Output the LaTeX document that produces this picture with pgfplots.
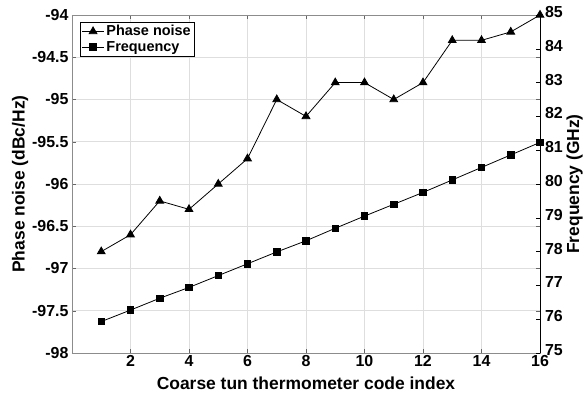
\documentclass[border=0pt]{standalone}
\usepackage{pgfplots}
\pgfplotsset{compat=1.18}
\usepackage{fontspec}
\setmainfont{Liberation Sans}
\begin{document}
\begin{tikzpicture}
\path[use as bounding box] (-72bp,-49bp) rectangle (514bp,353bp);
\pgfplotsset{
  every axis/.append style={
    scale only axis, width=468bp, height=338bp,
    at={(0,0)}, anchor=south west,
    xmin=0, xmax=16,
    /pgf/number format/assume math mode=true,
    tick label style={font=\fontsize{16}{18}\selectfont\bfseries},
    label style={font=\fontsize{17.5}{19}\selectfont\bfseries},
    major tick length=4bp,
  }
}
\begin{axis}[
  ymin=-98, ymax=-94,
  ytick={-98,-97.5,...,-94},
  xtick={2,4,...,16},
  yticklabel style={/pgf/number format/fixed},
  grid=major,
  major grid style={draw=black!13, line width=0.8pt},
  axis line style={draw=black!45},
  tick style={draw=black!60},
  xtick pos=both,
  xticklabel pos=bottom,
  ytick pos=both,
  yticklabel pos=left,
  xlabel={Coarse tun thermometer code index},
  ylabel={Phase noise (dBc/Hz)},
  xticklabel style={yshift=1bp},
  xlabel style={yshift=-3bp},
  ylabel style={yshift=-3bp},
]
\addplot[black, line width=0.8pt, mark=triangle*, mark size=4.5bp, mark options={solid}] coordinates {
(1,-96.8) (2,-96.6) (3,-96.2) (4,-96.3) (5,-96.0) (6,-95.7) (7,-95.0) (8,-95.2)
(9,-94.8) (10,-94.8) (11,-95.0) (12,-94.8) (13,-94.3) (14,-94.3) (15,-94.2) (16,-94.0)
};
\end{axis}
\begin{axis}[
  ymin=75, ymax=85,
  ytick={75,76,...,85},
  axis x line=none,
  axis y line*=right,
  axis line style={draw=black, line width=0.8pt},
  y axis line style={-},
  tick style={draw=black},
  ylabel={Frequency (GHz)},
  ylabel style={yshift=3bp},
  yticklabel style={xshift=1.5bp, yshift=3bp},
  legend style={at={(0.017,0.98)}, anchor=north west, draw=black, font=\fontsize{14.5}{16}\selectfont\bfseries, inner sep=1.5bp, row sep=0bp, cells={anchor=west}},
  legend cell align=left,
  legend image code/.code={\draw[mark repeat=2,mark phase=2,#1] plot coordinates {(0bp,0bp) (11bp,0bp) (22bp,0bp)};},
]
\addlegendimage{black, line width=0.8pt, mark=triangle*, mark size=4.5bp}
\addlegendentry{Phase noise}
\addplot[black, line width=0.8pt, mark=square*, mark size=3.3bp] coordinates {
(1,75.93) (2,76.27) (3,76.62) (4,76.94) (5,77.29) (6,77.64) (7,77.99) (8,78.32)
(9,78.69) (10,79.05) (11,79.40) (12,79.75) (13,80.12) (14,80.49) (15,80.86) (16,81.23)
};
\addlegendentry{Frequency}
\end{axis}
\end{tikzpicture}
\end{document}
